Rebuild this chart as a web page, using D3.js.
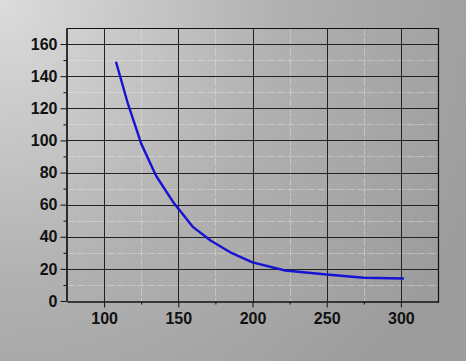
<!DOCTYPE html>
<html><head><meta charset="utf-8">
<script src="https://cdn.jsdelivr.net/npm/d3@7"></script>
<style>html,body{margin:0;padding:0;overflow:hidden;}svg{display:block;}</style>
</head><body>
<svg id="c" width="466" height="361"></svg>
<script>
const xValues = [108, 116, 125, 135, 147, 160, 172, 185, 200, 222, 250, 275, 302];
const yValues = [149, 123, 98, 78, 61, 46, 37.5, 30.3, 24, 19, 16.5, 14.5, 14];
const xTicks = [100, 150, 200, 250, 300];
const yTicks = [0, 20, 40, 60, 80, 100, 120, 140, 160];
const xMinor = [125, 175, 225, 275];
const yMinor = [10, 30, 50, 70, 90, 110, 130, 150];

const svg = d3.select("#c");
const W = 466, H = 361;
const m = {left: 67, top: 28, right: 438, bottom: 301};

const defs = svg.append("defs");
const g = defs.append("radialGradient").attr("id","bg")
  .attr("gradientUnits","userSpaceOnUse").attr("cx",0).attr("cy",0).attr("r",520);
g.append("stop").attr("offset","0%").attr("stop-color","#dcdcdc");
g.append("stop").attr("offset","55%").attr("stop-color","#b0b0b0");
g.append("stop").attr("offset","100%").attr("stop-color","#9c9c9c");
svg.append("rect").attr("width",W).attr("height",H).attr("fill","url(#bg)");

const x = d3.scaleLinear().domain([75, 325]).range([m.left, m.right]);
const y = d3.scaleLinear().domain([0, 170]).range([m.bottom, m.top]);

// minor grid
svg.append("g").selectAll("line").data(xMinor).join("line")
  .attr("x1", d => Math.round(x(d))+0.5).attr("x2", d => Math.round(x(d))+0.5).attr("y1", m.top).attr("y2", m.bottom)
  .attr("stroke", "#efeed8").attr("stroke-opacity", 0.4).attr("stroke-width", 1)
  .attr("stroke-dasharray", "8,2");
svg.append("g").selectAll("line").data(yMinor).join("line")
  .attr("y1", d => Math.round(y(d))+0.5).attr("y2", d => Math.round(y(d))+0.5).attr("x1", m.left).attr("x2", m.right)
  .attr("stroke", "#efeed8").attr("stroke-opacity", 0.4).attr("stroke-width", 1)
  .attr("stroke-dasharray", "8,2");
// major grid
svg.append("g").selectAll("line").data(xTicks).join("line")
  .attr("x1", d => Math.round(x(d))+0.5).attr("x2", d => Math.round(x(d))+0.5).attr("y1", m.top).attr("y2", m.bottom)
  .attr("stroke", "#222").attr("stroke-width", 1);
svg.append("g").selectAll("line").data(yTicks.filter(d=>d>0)).join("line")
  .attr("y1", d => Math.round(y(d))+0.5).attr("y2", d => Math.round(y(d))+0.5).attr("x1", m.left).attr("x2", m.right)
  .attr("stroke", "#222").attr("stroke-width", 1);

// frame top/right
svg.append("path")
  .attr("d", `M${m.left},${m.top+0.5}H${m.right+0.5}V${m.bottom+2}`)
  .attr("fill","none").attr("stroke","#111").attr("stroke-width",1.2);

// axes
svg.append("g").attr("transform", `translate(0,${m.bottom+0.5})`)
  .call(d3.axisBottom(x).tickValues(xTicks).tickSize(6).tickPadding(5).tickSizeOuter(0));
svg.append("g").attr("transform", `translate(0,${m.bottom+0.5})`)
  .call(d3.axisBottom(x).tickValues(xMinor).tickSize(3).tickFormat("").tickSizeOuter(0));
svg.append("g").attr("transform", `translate(${m.left-0.5},0)`)
  .call(d3.axisLeft(y).tickValues(yTicks).tickSize(6).tickPadding(3).tickSizeOuter(0));
svg.append("g").attr("transform", `translate(${m.left-0.5},0)`)
  .call(d3.axisLeft(y).tickValues(yMinor).tickSize(3).tickFormat("").tickSizeOuter(0));
svg.selectAll(".domain").attr("stroke","#111").attr("stroke-width",1.2);
svg.selectAll(".tick line").attr("stroke","#111");
svg.selectAll(".tick text").attr("fill","#111")
  .style("font-family","'Liberation Sans', Arial, sans-serif")
  .style("font-weight","bold").style("font-size","16px");

// curve
const pts = xValues.map((d,i)=>[d, yValues[i]]);
svg.append("path").datum(pts)
  .attr("d", d3.line().x(d=>x(d[0])).y(d=>y(d[1])))
  .attr("fill","none").attr("stroke","#1414d2").attr("stroke-width",2.4)
  .attr("stroke-linejoin","round");
</script>
</body></html>
